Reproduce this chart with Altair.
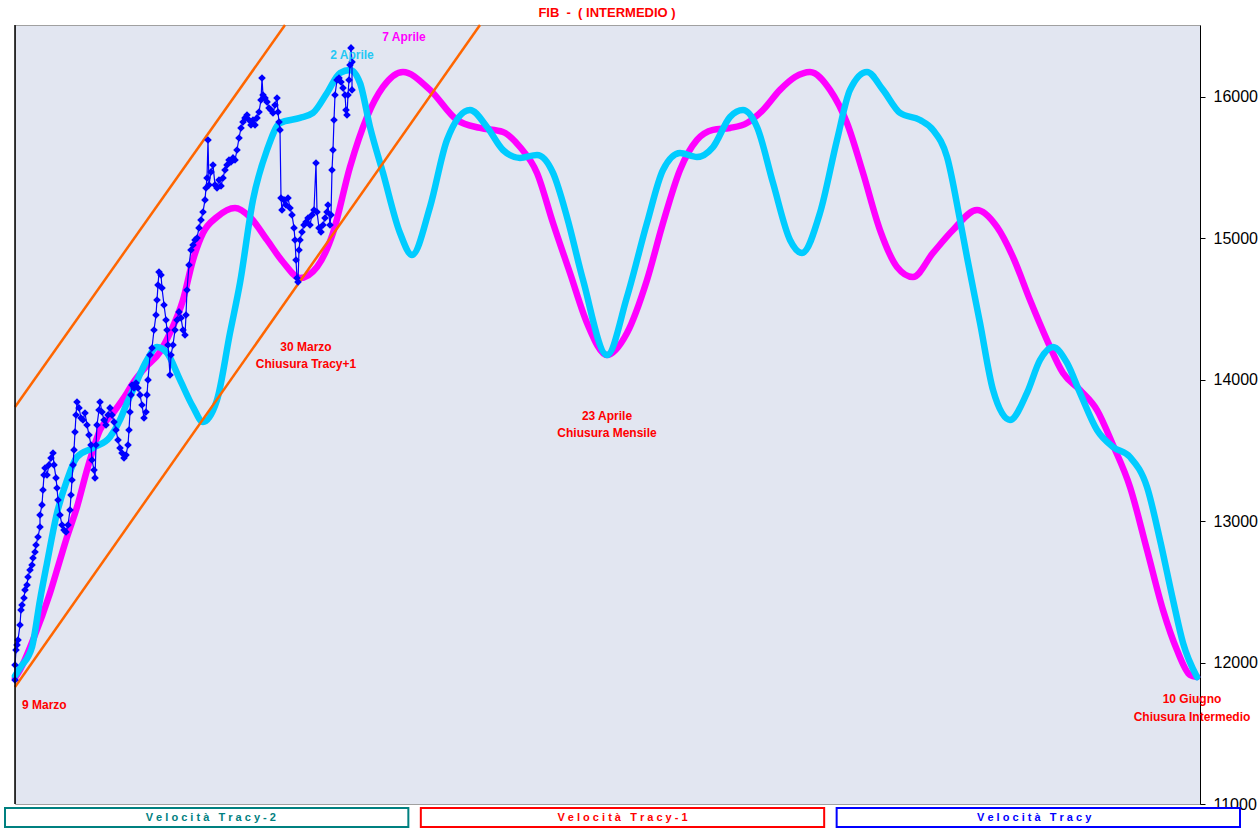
import altair as alt
import pandas as pd

FONT = "Liberation Sans"
NB = "\u00a0"

# ---- Velocità Tracy-1 (magenta) ----
t1_t = [15, 20, 33, 50, 60, 67, 77, 87, 100, 113, 127, 133, 145, 160, 170, 183, 193, 203, 217, 235,
        250, 267, 283, 300, 317, 333, 350, 367, 383, 403, 430, 457, 480, 503, 520, 537, 553, 570, 587, 607,
        627, 647, 663, 680, 697, 713, 730, 747, 763, 780, 795, 810, 830, 847, 863, 880, 897, 913, 933, 953,
        977, 997, 1013, 1030, 1047, 1063, 1080, 1097, 1113, 1130, 1147, 1163, 1177, 1190, 1197]
t1_v = [11891, 11948, 12160, 12492, 12726, 12888, 13100, 13362, 13645, 13765, 13907, 13977, 14084, 14197, 14331, 14564, 14847, 15038, 15151, 15215,
        15151, 14989, 14833, 14720, 14798, 15038, 15505, 15859, 16071, 16177, 16050, 15837, 15781, 15752, 15646, 15463, 15109, 14755, 14402, 14175,
        14331, 14706, 15109, 15484, 15696, 15767, 15781, 15816, 15908, 16050, 16141, 16177, 16050, 15816, 15463, 15059, 14798, 14727, 14897, 15059,
        15201, 15081, 14868, 14564, 14281, 14048, 13928, 13786, 13539, 13242, 12797, 12372, 12089, 11913, 11898]

# ---- Velocità Tracy-2 (cyan) ----
t2_t = [15, 20, 32, 40, 47, 57, 67, 77, 93, 110, 120, 127, 133, 147, 157, 167, 180, 193, 203, 217,
        230, 240, 253, 267, 280, 300, 313, 327, 340, 350, 360, 370, 383, 400, 412, 430, 447, 470, 487, 503,
        520, 537, 553, 567, 583, 607, 627, 647, 663, 680, 697, 713, 730, 743, 757, 773, 790, 802, 820, 837,
        850, 867, 883, 900, 920, 933, 947, 960, 967, 980, 993, 1010, 1027, 1040, 1053, 1067, 1080, 1097, 1113, 1130,
        1147, 1160, 1173, 1183, 1197]
t2_v = [11905, 11962, 12110, 12443, 12704, 13058, 13291, 13454, 13518, 13596, 13716, 13836, 13928, 14140, 14232, 14190, 13999, 13808, 13702, 13857,
        14331, 14685, 15272, 15625, 15816, 15852, 15887, 16028, 16170, 16191, 16099, 15788, 15463, 15038, 14883, 15222, 15696, 15908, 15788, 15625,
        15569, 15590, 15463, 15151, 14706, 14175, 14586, 15109, 15484, 15604, 15576, 15646, 15859, 15908, 15788, 15392, 14989, 14897, 15180, 15696,
        16050, 16177, 16050, 15887, 15837, 15767, 15576, 15130, 14868, 14402, 13928, 13716, 13907, 14140, 14232, 14119, 13907, 13645, 13525, 13454,
        13242, 12867, 12443, 12139, 11898]

# ---- Velocità Tracy (blue, actual) ----
tr_t = [15, 15, 16, 17, 18, 20, 21, 22, 24, 25, 27, 28, 30, 32, 33, 35, 36, 38, 40, 40,
        42, 43, 44, 45, 47, 49, 51, 53, 54, 56, 57, 58, 60, 62, 64, 66, 68, 70, 71, 72,
        73, 74, 75, 76, 77, 79, 81, 83, 85, 87, 89, 91, 92, 94, 95, 96, 97, 99, 100, 102,
        104, 106, 108, 110, 112, 114, 116, 118, 120, 122, 124, 126, 128, 129, 130, 131, 132, 134, 136, 138,
        140, 142, 144, 146, 147, 148, 150, 152, 154, 156, 157, 158, 159, 161, 162, 164, 166, 167, 168, 170,
        171, 173, 175, 177, 179, 181, 183, 185, 186, 187, 189, 191, 193, 195, 197, 199, 201, 203, 205, 206,
        207, 208, 209, 211, 213, 215, 217, 219, 221, 223, 225, 227, 229, 231, 233, 235, 237, 239, 241, 243,
        245, 247, 249, 251, 253, 255, 257, 259, 261, 262, 263, 265, 267, 269, 271, 273, 275, 277, 278, 279,
        280, 281, 282, 284, 286, 288, 290, 292, 294, 295, 296, 297, 298, 299, 300, 302, 304, 306, 308, 310,
        312, 314, 316, 317, 319, 321, 323, 325, 327, 328, 330, 331, 332, 333, 334, 335, 337, 339, 341, 343,
        345, 346, 347, 348, 349, 350, 351, 352, 352]
tr_v = [11877, 11983, 12089, 12125, 12160, 12266, 12372, 12407, 12457, 12514, 12549, 12605, 12655, 12690, 12740, 12782, 12832, 12888, 12959, 13044,
        13115, 13221, 13327, 13376, 13327, 13398, 13447, 13482, 13398, 13306, 13235, 13150, 13044, 12973, 12938, 12924, 12973, 13079, 13185, 13291,
        13398, 13504, 13631, 13751, 13843, 13801, 13730, 13716, 13765, 13680, 13610, 13539, 13433, 13362, 13306, 13539, 13680, 13786, 13843, 13772,
        13716, 13680, 13751, 13801, 13751, 13702, 13645, 13574, 13518, 13482, 13447, 13468, 13539, 13645, 13772, 13893, 13963, 13942, 13977, 13942,
        13893, 13822, 13730, 13772, 13893, 13999, 14175, 14225, 14352, 14458, 14564, 14670, 14762, 14741, 14649, 14529, 14423, 14352, 14246, 14034,
        14175, 14246, 14352, 14423, 14480, 14437, 14352, 14317, 14458, 14635, 14812, 14918, 14953, 14989, 15003, 15074, 15130, 15187, 15272, 15356,
        15427, 15696, 15378, 15470, 15519, 15378, 15356, 15413, 15371, 15427, 15484, 15519, 15554, 15540, 15569, 15554, 15625, 15710, 15781, 15823,
        15852, 15873, 15837, 15802, 15837, 15802, 15852, 15894, 15979, 16134, 16014, 15993, 15965, 15922, 15908, 15887, 15943, 15993, 15894, 15823,
        15767, 15286, 15201, 15272, 15236, 15286, 15215, 15166, 15074, 14989, 14847, 14720, 14692, 14918, 14989, 15045, 15095, 15116, 15144, 15095,
        15166, 15201, 15533, 15187, 15074, 15045, 15095, 15144, 15187, 15236, 15095, 15166, 15484, 15625, 15837, 16014, 16120, 16134, 16106, 16064,
        16014, 15908, 15873, 16014, 16120, 16226, 16347, 16248, 16050]

# ---- channel lines (orange) ----
ch_up_t = [15, 285]
ch_up_v = [13808, 16509]
ch_lo_t = [15, 480]
ch_lo_v = [11828, 16509]

# ---- annotations ----
ann_text = ["30 Marzo", "Chiusura Tracy+1", "23 Aprile", "Chiusura Mensile",
            "10 Giugno", "Chiusura Intermedio", "7 Aprile", "2 Aprile"]
ann_t = [306, 306, 607, 607, 1192, 1192, 404, 352]
ann_v = [14232, 14112, 13744, 13624, 11743, 11615, 16424, 16297]
ann_col = ["#ff0000", "#ff0000", "#ff0000", "#ff0000", "#ff0000", "#ff0000", "#ff00ff", "#22c8f5"]
left_text = ["9 Marzo"]
left_t = [22]
left_v = [11700]

title_text = "FIB  -  ( INTERMEDIO )"

legend_names = ["Velocità Tracy-2", "Velocità Tracy-1", "Velocità Tracy"]
legend_cols = ["#008080", "#ff0000", "#0000ff"]

y_ticks = [11000, 12000, 13000, 14000, 15000, 16000]

# ---------------------------------------------------------------
xs = alt.Scale(domain=[15, 1200], nice=False, zero=False)
ys = alt.Scale(domain=[11000, 16509], nice=False, zero=False)
yaxis = alt.Axis(orient="right", values=y_ticks, format="d", title=None, grid=False,
                 labelFont=FONT, labelFontSize=16, labelColor="black",
                 domainColor="black", tickColor="black", tickSize=5, labelPadding=8,
                 labelFlush=False, labelOverlap=False)


def X():
    return alt.X("t:Q", scale=xs, axis=None)


def Y():
    return alt.Y("v:Q", scale=ys, axis=yaxis)


def spaced(s):
    # letter-spaced label, with non-breaking spaces so SVG keeps them
    return NB.join(NB if c == " " else c for c in s)


df1 = pd.DataFrame({"t": t1_t, "v": t1_v})
df2 = pd.DataFrame({"t": t2_t, "v": t2_v})
dtr = pd.DataFrame({"t": tr_t, "v": tr_v, "i": list(range(len(tr_t)))})
dup = pd.DataFrame({"t": ch_up_t, "v": ch_up_v})
dlo = pd.DataFrame({"t": ch_lo_t, "v": ch_lo_v})
dann = pd.DataFrame({"t": ann_t, "v": ann_v, "txt": ann_text, "col": ann_col})
dleft = pd.DataFrame({"t": left_t, "v": left_v, "txt": left_text})
dleg = pd.DataFrame({"serie": legend_names,
                     "lab": [spaced(n) for n in legend_names]})
dtitle = pd.DataFrame({"txt": [title_text.replace("  ", NB + NB)]})

magenta = alt.Chart(df1).mark_line(color="#ff00ff", strokeWidth=6.5, interpolate="monotone",
                                   strokeCap="round").encode(x=X(), y=Y())
cyan = alt.Chart(df2).mark_line(color="#00ccff", strokeWidth=6.5, interpolate="monotone",
                                strokeCap="round").encode(x=X(), y=Y())
up = alt.Chart(dup).mark_line(color="#ff6600", strokeWidth=2.5).encode(x=X(), y=Y())
lo = alt.Chart(dlo).mark_line(color="#ff6600", strokeWidth=2.5).encode(x=X(), y=Y())
tracy = alt.Chart(dtr).mark_line(
    color="#0000ff", strokeWidth=1.2,
    point=alt.OverlayMarkDef(shape="diamond", size=58, filled=True, color="#0000ff", opacity=1)
).encode(x=X(), y=Y(), order=alt.Order("i:Q"))

ann = alt.Chart(dann).mark_text(font=FONT, fontSize=12, fontWeight="bold", align="center",
                                baseline="middle").encode(
    x=X(), y=Y(), text="txt:N", color=alt.Color("col:N", scale=None))
annl = alt.Chart(dleft).mark_text(font=FONT, fontSize=12, fontWeight="bold", align="left",
                                  baseline="middle", color="#ff0000").encode(
    x=X(), y=Y(), text="txt:N")

title = alt.Chart(dtitle).mark_text(font=FONT, fontSize=13, fontWeight="bold", color="#ff0000",
                                    align="center", baseline="middle").encode(
    x=alt.value(592), y=alt.value(-12), text="txt:N")

leftline = alt.Chart(dtitle).mark_rule(color="black", strokeWidth=1.5).encode(
    x=alt.value(0), y=alt.value(0), y2=alt.value(779))

legx = alt.X("serie:N", scale=alt.Scale(domain=legend_names, range=[-10, 1225],
                                        paddingInner=0.03, paddingOuter=0), axis=None)
legbox = alt.Chart(dleg).mark_rect(fill="white", strokeWidth=2).encode(
    x=legx, y=alt.value(783), y2=alt.value(802),
    stroke=alt.Stroke("serie:N", scale=alt.Scale(domain=legend_names, range=legend_cols), legend=None))
legtxt = alt.Chart(dleg).mark_text(font=FONT, fontSize=11, fontWeight="bold", baseline="middle",
                                   align="center").encode(
    x=legx, y=alt.value(792.5), text="lab:N",
    color=alt.Color("serie:N", scale=alt.Scale(domain=legend_names, range=legend_cols), legend=None))

chart = alt.layer(
    magenta, cyan, up, lo, tracy, ann, annl, title, leftline, legbox, legtxt
).resolve_scale(x="independent").properties(
    width=1185, height=779,
    autosize=alt.AutoSizeParams(type="none"),
    padding={"left": 15, "top": 25, "right": 59, "bottom": 27},
    background="white",
).configure_view(fill="#e2e6f1", stroke="#a0a0a0", strokeWidth=1)

chart.save("out.html", embed_options={"renderer": "svg", "actions": False})
